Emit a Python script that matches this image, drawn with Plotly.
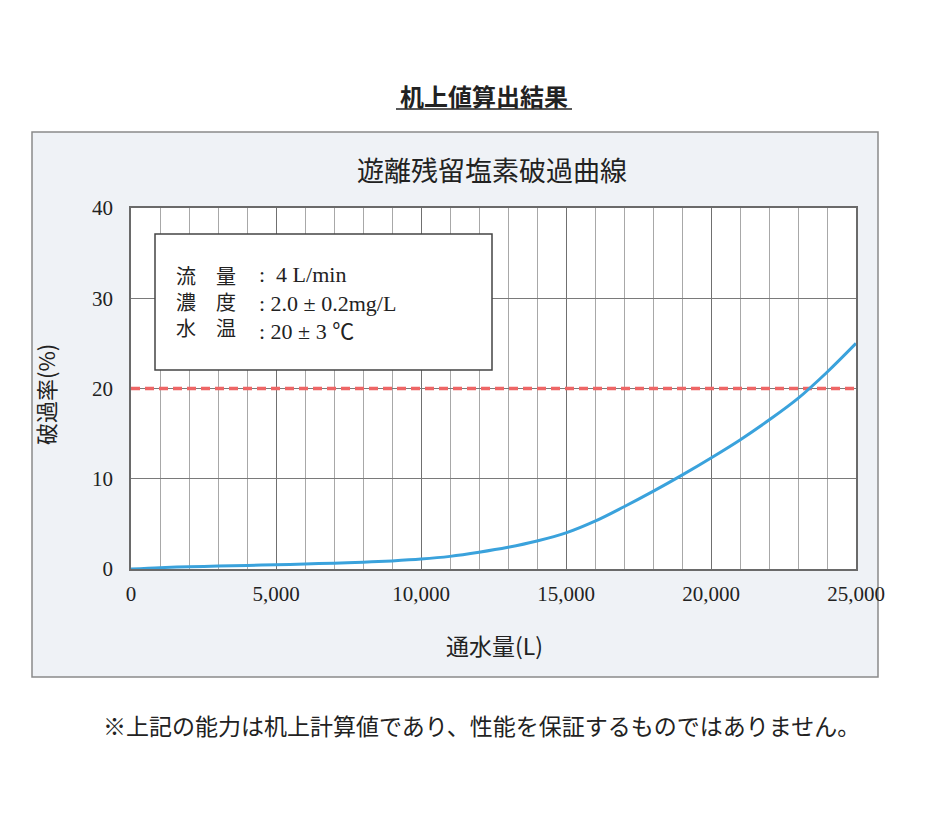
import plotly.graph_objects as go

# Data
volume_L = [0, 1000, 2000, 3000, 4000, 5000, 6000, 7000, 8000, 9000, 10000,
            11000, 12000, 13000, 14000, 15000, 16000, 17000, 18000, 19000,
            20000, 21000, 22000, 23000, 24000, 25000]
breakthrough_pct = [0, 0.15, 0.25, 0.32, 0.4, 0.47, 0.55, 0.65, 0.75, 0.9, 1.1,
                    1.4, 1.85, 2.4, 3.1, 4.0, 5.3, 6.9, 8.6, 10.4,
                    12.3, 14.3, 16.5, 18.9, 21.8, 25.0]
limit_x = [0, 25000]
limit_y = [20, 20]

x_ticks = [0, 5000, 10000, 15000, 20000, 25000]
x_ticklabels = ["0", "5,000", "10,000", "15,000", "20,000", "25,000"]
y_ticks = [0, 10, 20, 30, 40]

conditions_labels = ["流　量", "濃　度", "水　温"]
conditions_values = [":  4 L/min", ": 2.0 ± 0.2mg/L", ": 20 ± 3 ℃"]

page_title = "机上値算出結果"
chart_title = "遊離残留塩素破過曲線"
x_title = "通水量(L)"
y_title = "破過率(%)"
footnote = "※上記の能力は机上計算値であり、性能を保証するものではありません。"

SERIF = "Liberation Serif, Noto Sans CJK JP, serif"
CJK = "Noto Sans CJK JP, sans-serif"

fig = go.Figure()
fig.add_trace(go.Scatter(x=limit_x, y=limit_y, mode="lines",
                         line=dict(color="#ee6666", width=3.5, dash="9px,5px"),
                         hoverinfo="skip", showlegend=False))
fig.add_trace(go.Scatter(x=volume_L, y=breakthrough_pct, mode="lines",
                         line=dict(color="#3aa2dc", width=3, shape="spline", smoothing=1.0),
                         showlegend=False))

fig.update_layout(
    width=944, height=833,
    margin=dict(l=131, r=88, t=208, b=264),
    paper_bgcolor="white", plot_bgcolor="white",
    xaxis=dict(range=[0, 25000], tickvals=x_ticks, ticktext=x_ticklabels,
               showgrid=True, gridcolor="#707070", gridwidth=1.2,
               minor=dict(dtick=1000, showgrid=True, gridcolor="#a8a8a8", gridwidth=1),
               showline=True, mirror=True, linecolor="#6a6a6a", linewidth=1.5,
               zeroline=False, ticks="", ticklabelstandoff=5,
               tickfont=dict(family=SERIF, size=21, color="#222")),
    yaxis=dict(range=[0, 40], tickvals=y_ticks,
               showgrid=True, gridcolor="#7a7a7a", gridwidth=1.2,
               showline=True, mirror=True, linecolor="#6a6a6a", linewidth=1.5,
               zeroline=False, ticks="", ticklabelstandoff=12,
               tickfont=dict(family=SERIF, size=21, color="#222")),
)

def px_x(px):
    return (px - 131) / 725.0

def px_y(py):
    return (569 - py) / 361.0

shapes = [
    # outer chart panel
    dict(type="rect", xref="paper", yref="paper", layer="below",
         x0=px_x(32), x1=px_x(878), y0=px_y(677), y1=px_y(132),
         fillcolor="#eff2f6", line=dict(color="#8a8a8a", width=1.5)),
    # plot area background
    dict(type="rect", xref="x domain", yref="y domain", layer="below",
         x0=0, x1=1, y0=0, y1=1, fillcolor="white", line=dict(width=0)),
    # conditions box
    dict(type="rect", xref="paper", yref="paper", layer="above",
         x0=px_x(155), x1=px_x(492), y0=px_y(370), y1=px_y(234),
         fillcolor="white", line=dict(color="#444", width=1.5)),
    # title underline
    dict(type="line", xref="paper", yref="paper",
         x0=px_x(396), x1=px_x(572), y0=px_y(109), y1=px_y(109),
         line=dict(color="#222", width=1.5)),
]
fig.update_layout(shapes=shapes)

annotations = [
    dict(text="<b>" + page_title + "</b>", x=px_x(484), y=px_y(95),
         font=dict(family=CJK, size=24, color="#222")),
    dict(text=chart_title, x=px_x(492), y=px_y(170),
         font=dict(family=CJK, size=27, color="#222")),
    dict(text=x_title, x=px_x(494), y=px_y(645),
         font=dict(family=CJK, size=23, color="#222")),
    dict(text=y_title, x=px_x(45), y=px_y(395), textangle=-90,
         font=dict(family=CJK, size=22, color="#222")),
    dict(text=footnote, x=px_x(481), y=px_y(725),
         font=dict(family=CJK, size=23, color="#222")),
    dict(text="<br>".join(conditions_labels), x=px_x(174), y=px_y(303),
         xanchor="left", align="left",
         font=dict(family=SERIF, size=20, color="#222")),
    dict(text="<br>".join(conditions_values), x=px_x(257), y=px_y(303),
         xanchor="left", align="left",
         font=dict(family=SERIF, size=22, color="#222")),
]
for a in annotations:
    a.setdefault("xanchor", "center")
    a.update(xref="paper", yref="paper", yanchor="middle", showarrow=False)
fig.update_layout(annotations=annotations)

fig.write_html("out.html")
